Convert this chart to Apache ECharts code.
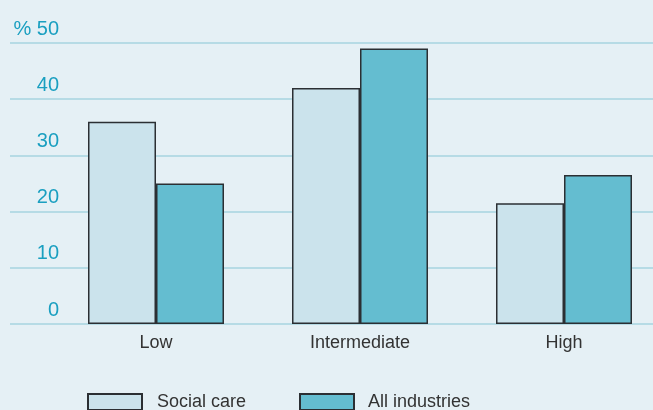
<!DOCTYPE html>
<html>
<head>
<meta charset="utf-8">
<script src="https://cdn.jsdelivr.net/npm/echarts@6/dist/echarts.min.js"></script>
<style>
  html, body { margin: 0; padding: 0; background: #e5f0f5; }
  #chart { width: 653px; height: 410px; }
</style>
</head>
<body>
<div id="chart"></div>
<script>
// Skill level shares, per cent
const categories = ['Low', 'Intermediate', 'High'];
const socialCare = [36, 42, 21.5];
const allIndustries = [25, 49, 26.5];
const yTicks = [0, 10, 20, 30, 40, 50];

const FONT = 'Liberation Sans, Arial, sans-serif';
const chart = echarts.init(document.getElementById('chart'));

chart.setOption({
  backgroundColor: '#e5f0f5',
  animation: false,
  grid: [
    // full-width grid carrying the gridlines and value labels
    { left: 10, right: 0, top: 43, bottom: 86, outerBoundsMode: 'none' },
    // grid holding the bars; runs past the right edge so the bands stay even
    { left: 54, width: 612, top: 43, bottom: 86, outerBoundsMode: 'none' }
  ],
  xAxis: [
    { gridIndex: 0, type: 'value', show: false, min: 0, max: 1 },
    {
      gridIndex: 1,
      type: 'category',
      data: categories,
      axisLine: { show: false },
      axisTick: { show: false },
      axisLabel: { color: '#333', fontFamily: FONT, fontSize: 18, margin: 10 }
    }
  ],
  yAxis: [
    {
      gridIndex: 0,
      type: 'value',
      min: yTicks[0],
      max: yTicks[yTicks.length - 1],
      interval: 10,
      axisLine: { show: false },
      axisTick: { show: false },
      splitLine: { lineStyle: { color: '#a6d4df', width: 1.5 } },
      axisLabel: {
        inside: true,
        align: 'right',
        verticalAlign: 'bottom',
        margin: 49,
        padding: [0, 0, 4, 0],
        color: '#1a9fc0',
        fontFamily: FONT,
        fontSize: 20,
        formatter: v => (v === 50 ? '% 50' : String(v))
      }
    },
    { gridIndex: 1, type: 'value', show: false, min: 0, max: 50 }
  ],
  legend: [
    {
      data: ['Social care'],
      left: 87,
      top: 393,
      padding: 0,
      icon: 'rect',
      itemWidth: 54,
      itemHeight: 16,
      textStyle: { color: '#333', fontFamily: FONT, fontSize: 18, padding: [0, 0, 0, 10] }
    },
    {
      data: ['All industries'],
      left: 299,
      top: 393,
      padding: 0,
      icon: 'rect',
      itemWidth: 54,
      itemHeight: 16,
      textStyle: { color: '#333', fontFamily: FONT, fontSize: 18, padding: [0, 0, 0, 9] }
    }
  ],
  series: [
    {
      name: 'Social care',
      type: 'bar',
      xAxisIndex: 1,
      yAxisIndex: 1,
      data: socialCare,
      barWidth: 68,
      barGap: '0%',
      itemStyle: { color: '#cbe3ec', borderColor: '#2b2f33', borderWidth: 1.5 }
    },
    {
      name: 'All industries',
      type: 'bar',
      xAxisIndex: 1,
      yAxisIndex: 1,
      data: allIndustries,
      barWidth: 68,
      barGap: '0%',
      itemStyle: { color: '#64bdd0', borderColor: '#2b2f33', borderWidth: 1.5 }
    }
  ]
});
</script>
</body>
</html>
